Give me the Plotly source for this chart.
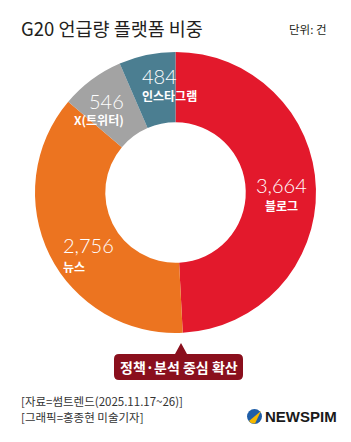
import plotly.graph_objects as go

W, H = 351, 442

# ---- data ----
platforms = ["블로그", "뉴스", "X(트위터)", "인스타그램"]
counts = [3664, 2756, 546, 484]
colors = ["#e3192c", "#ec7420", "#a3a3a3", "#4b7e91"]

title_text = "G20 언급량 플랫폼 비중"
unit_text = "단위: 건"
callout_text = "정책·분석 중심 확산"
source_lines = ["[자료=썸트렌드(2025.11.17~26)]", "[그래픽=홍종현 미술기자]"]

KR = "Noto Sans CJK KR"


def px(x):
    return x / W


def py(y):
    return 1 - y / H


fig = go.Figure()
fig.add_trace(go.Pie(
    labels=platforms,
    values=counts,
    marker=dict(colors=colors, line=dict(width=0)),
    sort=False,
    direction="clockwise",
    rotation=0,
    hole=0.5,
    textinfo="none",
    hoverinfo="label+value",
    showlegend=False,
    domain=dict(x=[px(35), px(316)], y=[py(333), py(52)]),
))

# label positions / anchors (layout only)
label_layout = [
    dict(x=281, y_val=185, y_lab=205, anchor="center"),
    dict(x=62, y_val=245, y_lab=266, anchor="left"),
    dict(x=125, y_val=101, y_lab=120, anchor="right"),
    dict(x=141, y_val=76, y_lab=95, anchor="left"),
]

annotations = []
for name, val, lay in zip(platforms, counts, label_layout):
    annotations.append(dict(
        x=px(lay["x"]), y=py(lay["y_val"]), xref="paper", yref="paper",
        text=f"{val:,}", showarrow=False, xanchor=lay["anchor"], yanchor="middle",
        font=dict(family="Lato", size=20, color="white", weight=300),
        borderpad=0,
    ))
    annotations.append(dict(
        x=px(lay["x"]), y=py(lay["y_lab"]), xref="paper", yref="paper",
        text=f"<b>{name}</b>", showarrow=False, xanchor=lay["anchor"], yanchor="middle",
        font=dict(family=KR, size=12, color="white"),
        borderpad=0,
    ))

annotations.append(dict(
    x=px(19), y=py(28), xref="paper", yref="paper", text=title_text,
    showarrow=False, xanchor="left", yanchor="middle",
    font=dict(family=KR, size=18.5, color="#231f20", weight=400),
))
annotations.append(dict(
    x=px(329), y=py(29), xref="paper", yref="paper", text=unit_text,
    showarrow=False, xanchor="right", yanchor="middle",
    font=dict(family=KR, size=11.5, color="#231f20"),
))
annotations.append(dict(
    x=px(178.5), y=py(366.5), xref="paper", yref="paper", text=f"<b>{callout_text}</b>",
    showarrow=False, xanchor="center", yanchor="middle",
    font=dict(family=KR, size=14, color="white"),
))
for i, line in enumerate(source_lines):
    annotations.append(dict(
        x=px(19), y=py(401 + 16 * i), xref="paper", yref="paper", text=line,
        showarrow=False, xanchor="left", yanchor="middle",
        font=dict(family=KR, size=11.5, color="#333333"),
    ))
annotations.append(dict(
    x=px(263), y=py(416), xref="paper", yref="paper", text="<b>NEWSPIM</b>",
    showarrow=False, xanchor="left", yanchor="middle",
    font=dict(family="Liberation Sans", size=15, color="#1a1a1a"),
))

# callout box path (rounded rect + pointer)
x0, x1, y0, y1, r = 114, 243, 354, 380, 5
tx, ty, tw = 181, 343, 6
pts = (
    f"M {px(x0 + r)},{py(y0)} L {px(tx - tw)},{py(y0)} L {px(tx)},{py(ty)} L {px(tx + tw)},{py(y0)} "
    f"L {px(x1 - r)},{py(y0)} Q {px(x1)},{py(y0)} {px(x1)},{py(y0 + r)} "
    f"L {px(x1)},{py(y1 - r)} Q {px(x1)},{py(y1)} {px(x1 - r)},{py(y1)} "
    f"L {px(x0 + r)},{py(y1)} Q {px(x0)},{py(y1)} {px(x0)},{py(y1 - r)} "
    f"L {px(x0)},{py(y0 + r)} Q {px(x0)},{py(y0)} {px(x0 + r)},{py(y0)} Z"
)
shapes = [
    dict(type="path", xref="paper", yref="paper", path=pts,
         fillcolor="#8a0f1d", line=dict(width=0), layer="above"),
    # logo icon
    dict(type="circle", xref="paper", yref="paper",
         x0=px(247), x1=px(262), y0=py(424), y1=py(409),
         fillcolor="#1f5ea8", line=dict(width=0), layer="above"),
    dict(type="path", xref="paper", yref="paper",
         path=(f"M {px(249)},{py(421)} L {px(261)},{py(411)} L {px(255)},{py(423.5)} "
               f"Q {px(251)},{py(424)} {px(249)},{py(421)} Z"),
         fillcolor="#f5b800", line=dict(width=0), layer="above"),
]

fig.update_layout(
    width=W, height=H,
    margin=dict(l=0, r=0, t=0, b=0),
    paper_bgcolor="white", plot_bgcolor="white",
    annotations=annotations,
    shapes=shapes,
    showlegend=False,
)

fig.write_html("out.html")
